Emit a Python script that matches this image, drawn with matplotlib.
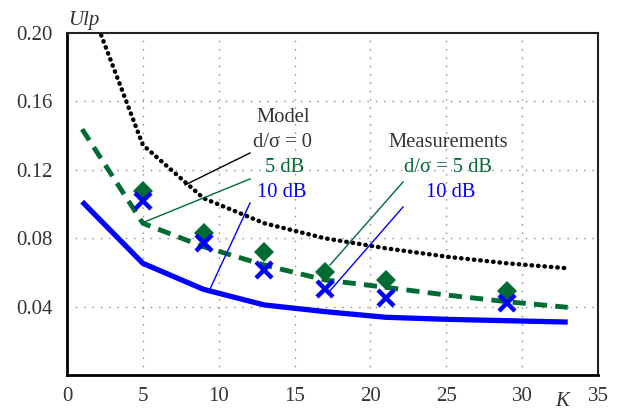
import numpy as np
import matplotlib.pyplot as plt

plt.rcParams['font.family'] = ['Liberation Serif', 'DejaVu Serif']

# model curves
k_model = [1, 5, 9, 13, 17, 21, 25, 29, 33]
model_0 = [0.228, 0.1346, 0.1035, 0.0889, 0.0801, 0.0743, 0.0694, 0.0655, 0.0626]
model_5 = [0.1438, 0.0889, 0.0752, 0.0645, 0.0558, 0.0515, 0.0470, 0.0431, 0.0398]
model_10 = [0.1015, 0.0655, 0.0503, 0.0412, 0.0373, 0.0340, 0.0328, 0.0320, 0.0312]

# measurements
k_meas = [5, 9, 13, 17, 21, 29]
meas_5 = [0.108, 0.0832, 0.0721, 0.0604, 0.0557, 0.0495]
meas_10 = [0.1019, 0.0776, 0.0616, 0.0503, 0.0451, 0.0425]

green = '#006b33'
blue = '#0000ff'
txt = '#333333'

fig = plt.figure(figsize=(6.23, 4.12), dpi=100)
ax = fig.add_axes([0.1075, 0.0886, 0.8525, 0.8314])

ax.plot(k_model, model_0, color='black', lw=3.2, linestyle=(0, (0.1, 1.35)),
        dash_capstyle='round')
ax.plot(k_model, model_5, color=green, lw=3.5, linestyle=(0, (2.7, 1.7)))
ax.plot(k_model, model_10, color=blue, lw=3.8, solid_capstyle='butt')
ax.plot(k_meas, meas_5, 'D', color=green, ms=10, mew=0)
ax.plot(k_meas, meas_10, 'x', color=blue, ms=11, mew=3.2)

ax.set_xlim(0, 35)
ax.set_ylim(0, 0.20)
ax.set_xticks([0, 5, 10, 15, 20, 25, 30, 35])
ax.set_yticks([0.04, 0.08, 0.12, 0.16, 0.20])
ax.set_yticklabels(['0.04', '0.08', '0.12', '0.16', '0.20'])
ax.tick_params(length=0, labelsize=15, labelcolor=txt)
ax.tick_params(axis='y', pad=10)
ax.tick_params(axis='x', pad=8)

for x in [5, 10, 15, 20, 25, 30]:
    ax.axvline(x, color='#888888', lw=1, linestyle=(0, (1, 5)), zorder=0)
for y in [0.04, 0.08, 0.12, 0.16]:
    ax.axhline(y, color='#888888', lw=1, linestyle=(0, (1, 5)), zorder=0)

for side in ['left', 'bottom']:
    ax.spines[side].set_linewidth(2)
for side in ['top', 'right']:
    ax.spines[side].set_linewidth(1.5)
    ax.spines[side].set_color('#222222')

fig.text(68 / 623, 1 - 20 / 412, 'Ulp', fontsize=15, style='italic',
         color=txt, ha='left', va='center')
fig.text(562 / 623, 1 - 401 / 412, 'K', fontsize=15, style='italic',
         color=txt, ha='center', va='center')

def px(x, y):
    return ((x - 67) / 531 * 35, (375.5 - y) / 342.5 * 0.2)

fs = 14.8
# model annotations
ax.text(*px(310, 118), 'Model', fontsize=fs, color=txt, ha='right', va='center')
ax.text(*px(312, 143), 'd/σ = 0', fontsize=fs, color=txt, ha='right', va='center')
ax.text(*px(304, 168), '5 dB', fontsize=fs, color=green, ha='right', va='center')
ax.text(*px(306, 193), '10 dB', fontsize=fs, color=blue, ha='right', va='center')
for (x0, y0), (x1, y1), c in [((250, 153), (185, 185), 'black'),
                              ((250, 179), (142, 223), green),
                              ((250, 203), (210, 289), blue)]:
    a, b = px(x0, y0)
    c0, d0 = px(x1, y1)
    ax.plot([a, c0], [b, d0], color=c, lw=1)

# measurement annotations
ax.text(*px(448, 143), 'Measurements', fontsize=fs, color=txt, ha='center', va='center')
ax.text(*px(448, 168), 'd/σ = 5 dB', fontsize=fs, color=green, ha='center', va='center')
ax.text(*px(451, 193), '10 dB', fontsize=fs, color=blue, ha='center', va='center')
for (x0, y0), (x1, y1), c in [((403, 182), (330, 265), green),
                              ((403, 207), (328, 293), blue)]:
    a, b = px(x0, y0)
    c0, d0 = px(x1, y1)
    ax.plot([a, c0], [b, d0], color=c, lw=1)

fig.savefig('out.png', dpi=100)
